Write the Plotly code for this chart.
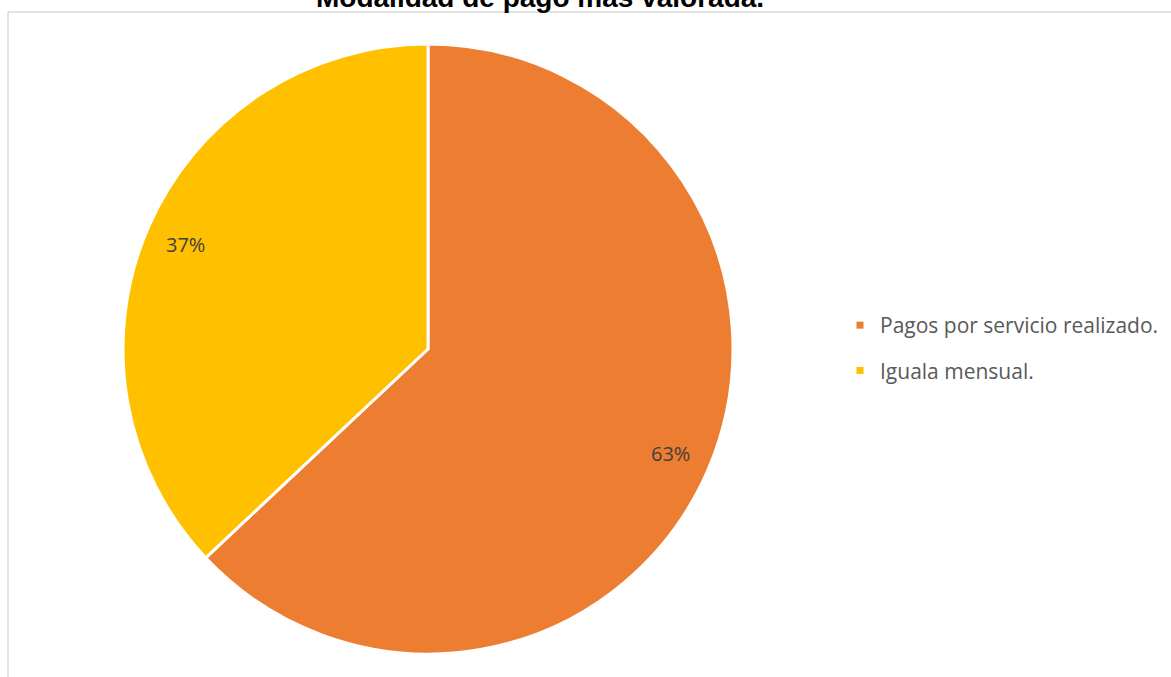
import math
import plotly.graph_objects as go

# Chart data
title_text = "Modalidad de pago más valorada."
categories = ["Pagos por servicio realizado.", "Iguala mensual."]
values = [63, 37]
colors = ["#ED7D31", "#FFC000"]

W, H = 1171, 677
pie_cx, pie_cy, pie_r = 428, 349, 305  # pie centre and radius in px
label_r = 0.865                          # label distance as fraction of radius

fig = go.Figure()

fig.add_trace(go.Pie(
    labels=categories,
    values=values,
    sort=False,
    direction="clockwise",
    rotation=0,
    marker=dict(colors=colors, line=dict(color="white", width=3)),
    textinfo="none",
    hoverinfo="label+percent",
    showlegend=False,
    domain=dict(
        x=[(pie_cx - pie_r) / W, (pie_cx + pie_r) / W],
        y=[1 - (pie_cy + pie_r) / H, 1 - (pie_cy - pie_r) / H],
    ),
))

# Legend entries (one group per category so the spacing can be controlled)
for name, col in zip(categories, colors):
    fig.add_trace(go.Scatter(
        x=[None], y=[None], mode="markers", name=name, legendgroup=name,
        marker=dict(symbol="square", size=7, color=col),
    ))

# Percentage labels placed along each slice's mid-angle
total = sum(values)
start = 0.0
annotations = []
for v in values:
    frac = v / total
    mid = (start + frac / 2) * 2 * math.pi
    start += frac
    px = pie_cx + label_r * pie_r * math.sin(mid)
    py = pie_cy - label_r * pie_r * math.cos(mid)
    annotations.append(dict(
        x=px / W, y=1 - py / H, xref="paper", yref="paper",
        text=f"{round(frac * 100)}%", showarrow=False,
        font=dict(family="Open Sans", size=20, color="#404040"),
        xanchor="center", yanchor="middle",
    ))

# Title, partly cut by the top edge
annotations.append(dict(
    x=539.5 / W, y=1 - 15 / H, xref="paper", yref="paper",
    text=f"<b>{title_text}</b>", showarrow=False,
    font=dict(family="Liberation Sans, Arial", size=28, color="black"),
    xanchor="center", yanchor="bottom",
))

# Frame lines
shapes = [
    dict(type="line", xref="paper", yref="paper", x0=8 / W, x1=8 / W,
         y0=0, y1=1 - 12 / H, line=dict(color="#D9D9D9", width=1.5)),
    dict(type="line", xref="paper", yref="paper", x0=8 / W, x1=1,
         y0=1 - 12 / H, y1=1 - 12 / H, line=dict(color="#D9D9D9", width=1.5)),
]

fig.update_layout(
    width=W, height=H,
    margin=dict(l=0, r=0, t=0, b=0),
    paper_bgcolor="white", plot_bgcolor="white",
    xaxis=dict(visible=False), yaxis=dict(visible=False),
    annotations=annotations,
    shapes=shapes,
    legend=dict(
        x=840 / W, y=1 - 305 / H, xanchor="left", yanchor="top",
        font=dict(family="Open Sans", size=21, color="#595959"),
        traceorder="grouped", tracegroupgap=15,
        bgcolor="rgba(0,0,0,0)",
    ),
)

fig.write_html("out.html")
